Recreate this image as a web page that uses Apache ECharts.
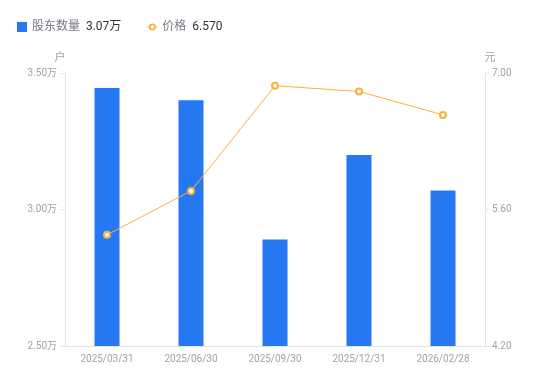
<!DOCTYPE html>
<html>
<head>
<meta charset="utf-8">
<script src="https://cdn.jsdelivr.net/npm/echarts@6/dist/echarts.min.js"></script>
<style>html,body{margin:0;padding:0;background:#fff}#c{width:550px;height:381px}</style>
</head>
<body>
<div id="c"></div>
<script>
var categories = ['2025/03/31', '2025/06/30', '2025/09/30', '2025/12/31', '2026/02/28'];
var holders = [3.445, 3.40, 2.89, 3.20, 3.07];   // 万户
var prices = [5.34, 5.79, 6.87, 6.81, 6.57];     // 元
var leftTicks = { min: 2.5, max: 3.5, interval: 0.5 };
var rightTicks = { min: 4.2, max: 7.0, interval: 1.4 };
var legendValues = { '股东数量': '3.07万', '价格': '6.570' };

var lineIcon = 'path://M0,4.5H1.6V5.5H0Z M8.4,4.5H10V5.5H8.4Z ' +
  'M1.5,5A3.5,3.5 0 1,0 8.5,5A3.5,3.5 0 1,0 1.5,5Z ' +
  'M3.2,5A1.8,1.8 0 1,1 6.8,5A1.8,1.8 0 1,1 3.2,5Z';

var chart = echarts.init(document.getElementById('c'));
var labelColor = '#9ea1ab';
var lineColor = '#e3e4e8';
chart.setOption({
  animation: false,
  textStyle: { fontFamily: 'Roboto, "Noto Sans CJK SC", sans-serif' },
  legend: {
    left: 12, top: 16,
    itemWidth: 10, itemHeight: 10, itemGap: 26,
    formatter: function (n) { return '{n|' + n + '}  {v|' + legendValues[n] + '}'; },
    textStyle: {
      rich: {
        n: { color: '#777a85', fontSize: 12 },
        v: { color: '#333', fontSize: 12 }
      }
    },
    data: [
      { name: '股东数量', icon: 'rect' },
      { name: '价格', icon: lineIcon, itemStyle: { color: '#f7b23b', borderWidth: 0 } }
    ]
  },
  grid: { left: 65, right: 65, top: 73, bottom: 35 },
  xAxis: {
    type: 'category', data: categories,
    axisLine: { lineStyle: { color: lineColor } },
    axisTick: { show: false },
    axisLabel: { color: labelColor, fontSize: 10, margin: 8 }
  },
  yAxis: [
    {
      type: 'value', name: '户', min: leftTicks.min, max: leftTicks.max, interval: leftTicks.interval,
      nameTextStyle: { color: labelColor, fontSize: 11, padding: [0, 10, 0, 0] }, nameGap: 9,
      axisLine: { show: true, lineStyle: { color: lineColor } },
      axisTick: { show: true, length: 4, lineStyle: { color: lineColor } },
      splitLine: { show: false },
      axisLabel: { color: labelColor, fontSize: 10, margin: 8, formatter: function (v) { return v.toFixed(2) + '万'; } }
    },
    {
      type: 'value', name: '元', min: rightTicks.min, max: rightTicks.max, interval: rightTicks.interval,
      nameTextStyle: { color: labelColor, fontSize: 11, padding: [0, 0, 0, 10] }, nameGap: 9,
      axisLine: { show: true, lineStyle: { color: lineColor } },
      axisTick: { show: true, length: 4, lineStyle: { color: lineColor } },
      splitLine: { show: false },
      axisLabel: { color: labelColor, fontSize: 10, margin: 7, formatter: function (v) { return v.toFixed(2); } }
    }
  ],
  series: [
    {
      name: '股东数量', type: 'bar', data: holders, yAxisIndex: 0,
      barWidth: 25,
      itemStyle: { color: '#2577f2' }
    },
    {
      name: '价格', type: 'line', data: prices, yAxisIndex: 1,
      symbol: 'emptyCircle', symbolSize: 6,
      lineStyle: { color: '#f7b23b', width: 1 },
      itemStyle: { color: '#f7b23b', borderWidth: 2 }
    }
  ]
});
</script>
</body>
</html>
